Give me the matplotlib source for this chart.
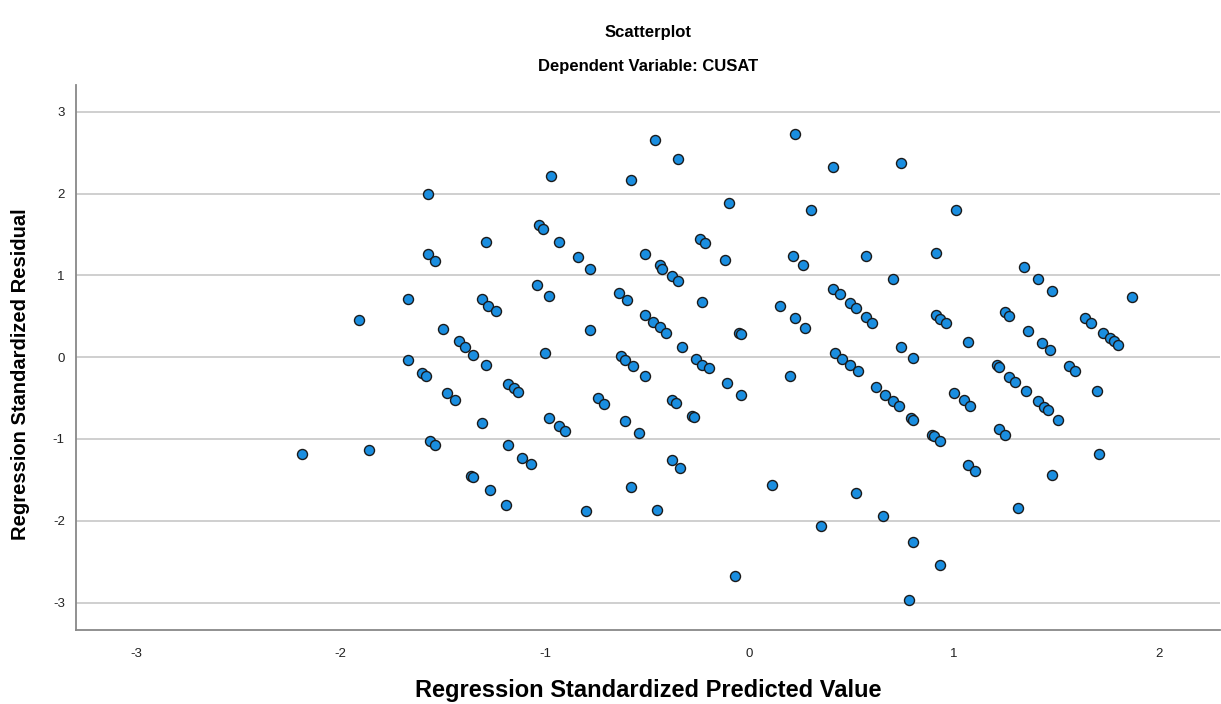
import matplotlib
matplotlib.use("Agg")
import matplotlib.pyplot as plt

# Datos (valor predicho estandarizado, residuo estandarizado)
pred = [
    -2.19, -1.86, -1.91, -1.67, -1.67, -1.57, -1.57, -1.54, -1.60, -1.58,
    -1.56, -1.54, -1.50, -1.48, -1.44, -1.42, -1.39, -1.35, -1.36, -1.35,
    -1.31, -1.28, -1.24, -1.29, -1.31, -1.29, -1.27, -1.19, -1.18, -1.18,
    -1.15, -1.13, -1.11, -1.07,
    -0.46, -0.35, -0.97, -0.58, -0.10, -1.03, -1.01, -0.93, -0.84, -0.78,
    -0.24, -0.22, -0.51, -0.12, -0.44, -0.43, -0.38, -0.35, -1.04, -0.98,
    -0.64, -0.60, -0.23, -0.51, -0.47, -0.44, -0.41, -0.78, -0.05, -0.04,
    -0.33, -1.00, -0.63, -0.61, -0.57, -0.26, -0.23, -0.20, -0.51, -0.11,
    -0.04, -0.74, -0.71, -0.38, -0.36, -0.98, -0.93, -0.90, -0.61, -0.54,
    -0.28, -0.27, -0.38, -0.34, -0.58, -0.80, -0.45, -0.07,
    0.22, 0.41, 0.74, 0.30, 1.01, 0.21, 0.26, 0.57, 0.91, 0.70,
    0.41, 0.44, 0.49, 0.52, 0.57, 0.60, 0.15, 0.22, 0.27, 0.91,
    0.93, 0.96, 1.07, 0.74, 0.80, 0.42, 0.45, 0.49, 0.53, 0.20,
    0.62, 0.66, 0.70, 0.73, 1.00, 1.05, 1.08, 0.79, 0.80, 0.89,
    0.90, 0.93, 1.07, 1.10, 0.11, 0.52, 0.65, 0.35, 0.80, 0.93, 0.78,
    1.34, 1.41, 1.48, 1.87, 1.25, 1.27, 1.64, 1.67, 1.36, 1.73,
    1.76, 1.78, 1.80, 1.43, 1.47, 1.21, 1.22, 1.56, 1.59, 1.27,
    1.30, 1.35, 1.41, 1.44, 1.46, 1.51, 1.70, 1.22, 1.25, 1.71,
    1.48, 1.31,
]
resid = [
    -1.19, -1.14, 0.46, 0.71, -0.04, 2.00, 1.26, 1.18, -0.19, -0.23,
    -1.02, -1.07, 0.34, -0.44, -0.53, 0.20, 0.12, 0.03, -1.45, -1.47,
    0.71, 0.63, 0.56, -0.09, -0.80, 1.41, -1.63, -1.81, -1.07, -0.33,
    -0.38, -0.43, -1.23, -1.31,
    2.65, 2.42, 2.22, 2.17, 1.89, 1.61, 1.57, 1.41, 1.22, 1.08,
    1.45, 1.40, 1.26, 1.19, 1.13, 1.08, 0.99, 0.93, 0.88, 0.75,
    0.79, 0.70, 0.67, 0.52, 0.43, 0.37, 0.30, 0.33, 0.30, 0.28,
    0.13, 0.05, 0.02, -0.03, -0.11, -0.02, -0.09, -0.13, -0.23, -0.32,
    -0.46, -0.50, -0.57, -0.52, -0.56, -0.75, -0.84, -0.90, -0.78, -0.93,
    -0.72, -0.73, -1.26, -1.35, -1.59, -1.88, -1.87, -2.67,
    2.73, 2.32, 2.37, 1.80, 1.80, 1.24, 1.13, 1.24, 1.27, 0.95,
    0.83, 0.77, 0.66, 0.60, 0.49, 0.42, 0.63, 0.48, 0.36, 0.51,
    0.47, 0.42, 0.18, 0.13, -0.01, 0.05, -0.02, -0.09, -0.17, -0.23,
    -0.37, -0.46, -0.54, -0.60, -0.44, -0.53, -0.60, -0.74, -0.77, -0.95,
    -0.96, -1.03, -1.32, -1.39, -1.56, -1.66, -1.94, -2.06, -2.26, -2.54, -2.97,
    1.10, 0.95, 0.81, 0.74, 0.55, 0.50, 0.48, 0.42, 0.32, 0.30,
    0.24, 0.20, 0.15, 0.17, 0.09, -0.10, -0.12, -0.11, -0.17, -0.24,
    -0.30, -0.41, -0.54, -0.61, -0.65, -0.77, -0.41, -0.88, -0.95, -1.19,
    -1.44, -1.84,
]

xticks = [-3, -2, -1, 0, 1, 2]
yticks = [-3, -2, -1, 0, 1, 2, 3]

plt.rcParams["font.family"] = ["Liberation Sans", "DejaVu Sans"]
plt.rcParams["axes.unicode_minus"] = False

fig = plt.figure(figsize=(12.21, 7.04), dpi=100)
ax = fig.add_axes([0.0622, 0.105, 0.937, 0.774])

ax.scatter(pred, resid, s=52, facecolor="#1a8ee0", edgecolor="#1a1a1a",
           linewidth=1.0, zorder=3)

# Configurar ejes
ax.set_xlim(-3.293, 2.30)
ax.set_ylim(-3.337, 3.325)
ax.set_xticks(xticks)
ax.set_yticks(yticks)
ax.tick_params(length=0, labelsize=9.5, colors="#222222")
ax.tick_params(axis="x", pad=13)
ax.tick_params(axis="y", pad=8)
ax.grid(True, axis="y", color="#cccccc", linewidth=1.3, zorder=0)
ax.set_axisbelow(True)
for side in ["top", "right"]:
    ax.spines[side].set_visible(False)
for side in ["left", "bottom"]:
    ax.spines[side].set_color("#888888")
    ax.spines[side].set_linewidth(1.3)

# Titulos y etiquetas
fig.text(0.531, 1 - 33 / 704, "Scatterplot", ha="center", va="center",
         fontsize=12, fontweight="bold")
fig.text(0.531, 1 - 66 / 704, "Dependent Variable: CUSAT", ha="center",
         va="center", fontsize=12, fontweight="bold")
fig.text(0.531, 1 - 691 / 704, "Regression Standardized Predicted Value",
         ha="center", va="center", fontsize=17, fontweight="bold")
fig.text(21 / 1221, 1 - 374 / 704, "Regression Standardized Residual",
         ha="center", va="center", rotation=90, fontsize=14.5,
         fontweight="bold")

fig.savefig("out.png", dpi=100)
